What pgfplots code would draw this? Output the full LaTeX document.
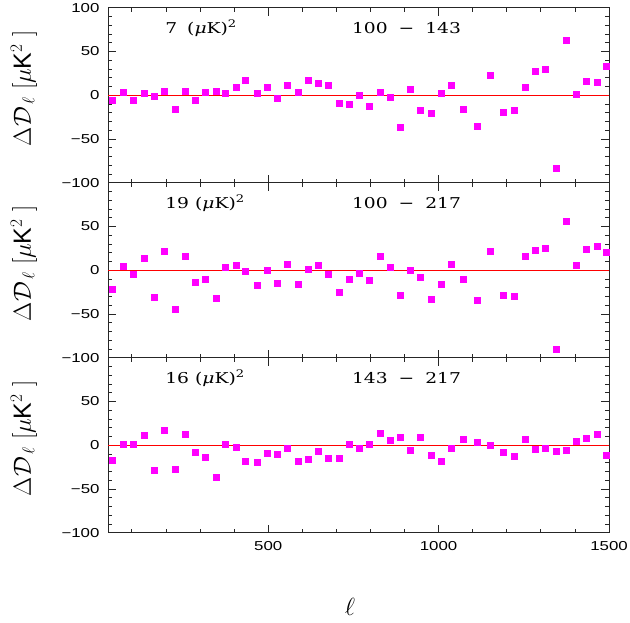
\documentclass[border=0pt]{standalone}
\usepackage{pgfplots}
\usepackage{pgfplotstable}
\pgfplotsset{compat=1.18}
\usepackage{fontspec}
\newfontfamily\ticksans[FakeStretch=1.3]{Liberation Sans}
\newfontfamily\plainsans{Liberation Sans}
\newfontfamily\panelserif[FakeStretch=1.25]{DejaVu Serif}
\definecolor{mag}{RGB}{255,0,255}
\definecolor{zred}{RGB}{255,0,0}
\pgfplotstableread{
l a b c
43 -5.3 -21.8 -16.8
75 3.4 5.0 1.5
105 -6.1 -4.2 1.5
135 1.9 14.1 11.9
165 -1.5 -30.5 -28.4
195 4.2 22.1 17.6
226 -16.3 -44.3 -27.2
256 4.2 16.4 13.0
285 -6.1 -13.4 -7.7
315 3.4 -10.7 -13.4
346 4.6 -31.7 -36.4
375 1.9 3.8 1.5
405 8.7 6.1 -1.9
434 16.7 -0.8 -18.0
468 1.9 -16.8 -19.2
496 8.7 0.4 -8.8
526 -3.8 -14.5 -10.0
555 11.0 7.3 -3.1
588 3.4 -15.6 -18.0
617 16.7 1.5 -15.7
646 13.3 6.1 -6.5
675 11.0 -4.2 -14.6
708 -9.5 -25.2 -14.6
737 -10.6 -9.9 1.5
768 -0.4 -3.1 -3.1
797 -12.9 -11.1 1.5
828 3.4 16.4 14.2
858 -2.7 3.8 6.1
888 -36.9 -28.2 9.6
917 6.5 0.4 -5.4
947 -17.5 -7.6 9.6
978 -20.9 -32.8 -11.1
1008 1.9 -15.6 -18.0
1038 11.0 7.3 -3.1
1071 -16.3 -9.9 7.3
1112 -35.7 -34.0 3.1
1152 22.4 22.1 0.4
1191 -19.8 -28.2 -7.7
1223 -17.5 -29.4 -12.3
1253 8.7 16.4 7.3
1282 27.0 23.3 -4.2
1313 29.3 25.6 -3.1
1344 -83.7 -90.0 -6.5
1373 62.4 56.5 -5.4
1403 0.8 6.1 5.0
1434 15.6 24.4 8.4
1464 14.4 27.9 13.0
1493 32.7 21.0 -11.1
}\datatable
\tikzset{ptxt/.style={font=\panelserif\fontsize{15}{15}\selectfont}}
\newcommand{\muKsq}{({\itshape μ}K)\raisebox{6bp}{\fontsize{10.5}{10.5}\selectfont 2}}
\pgfplotsset{
  panel/.style={
    scale only axis, width=501bp, height=175bp,
    xmin=30, xmax=1500, ymin=-100, ymax=100,
    xtick={500,1000,1500}, minor xtick={100,200,...,1400},
    ytick={-100,-50,0,50,100}, minor ytick={-90,-80,...,90},
    major tick length=8bp, minor tick length=4bp,
    tick style={black!85, line width=0.8pt},
    axis line style={black!85, line width=1pt},
    tick align=inside,
    tick label style={font=\ticksans\fontsize{13}{13}\selectfont},
    /pgf/number format/assume math mode=true,
    yticklabel style={xshift=-5bp},
    xticklabel style={yshift=-5bp},
    ylabel={$\Delta\mathcal{D}_{\,\ell}$\ [{\plainsans$\mu$K}$^2$\ ]},
    ylabel style={at={(axis description cs:-0.168,0.54)}, anchor=center, font=\fontsize{25}{25}\selectfont},
  },
  zline/.style={zred, line width=1pt},
  pts/.style={only marks, mark=square*, mark size=3bp, draw=mag, fill=mag},
}
\begin{document}
\begin{tikzpicture}
\useasboundingbox (0bp,0bp) rectangle (630bp,623bp);
% top panel
\begin{axis}[panel, at={(108bp,440.3bp)}, anchor=south west,
  xticklabels={},
  yticklabels={−100,−50,0,50,100}]
\addplot[zline] coordinates {(30,0) (1500,0)};
\addplot[pts] table[x=l, y=a] {\datatable};
\node[anchor=west, ptxt] at (axis cs:188,77) {7\hspace{10bp}\muKsq};
\node[anchor=center, ptxt] at (axis cs:906,77) {100\hspace{11bp}−\hspace{11bp}143};
\end{axis}
% middle panel
\begin{axis}[panel, at={(108bp,265.3bp)}, anchor=south west,
  xticklabels={},
  ytick={-100,-50,0,50},
  yticklabels={−100,−50,0,50}]
\addplot[zline] coordinates {(30,0) (1500,0)};
\addplot[pts] table[x=l, y=b] {\datatable};
\node[anchor=west, ptxt] at (axis cs:188,77) {19\hspace{6bp}\muKsq};
\node[anchor=center, ptxt] at (axis cs:906,77) {100\hspace{11bp}−\hspace{11bp}217};
\end{axis}
% bottom panel
\begin{axis}[panel, at={(108bp,90.3bp)}, anchor=south west,
  xticklabels={500,1000,1500},
  ytick={-100,-50,0,50},
  yticklabels={−100,−50,0,50},
  xlabel={$\ell$},
  xlabel style={at={(axis description cs:0.483,-0.425)}, anchor=center, font=\fontsize{24}{24}\selectfont}]
\addplot[zline] coordinates {(30,0) (1500,0)};
\addplot[pts] table[x=l, y=c] {\datatable};
\node[anchor=west, ptxt] at (axis cs:188,77) {16\hspace{6bp}\muKsq};
\node[anchor=center, ptxt] at (axis cs:906,77) {143\hspace{11bp}−\hspace{11bp}217};
\end{axis}
\end{tikzpicture}
\end{document}
